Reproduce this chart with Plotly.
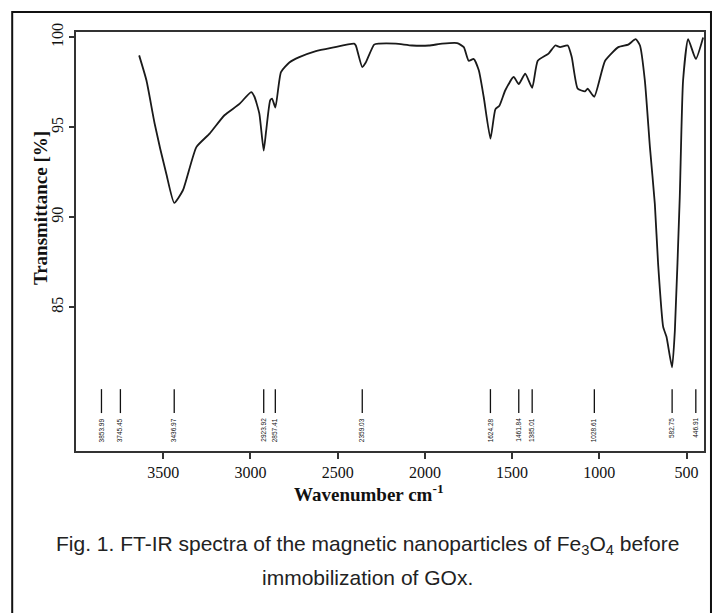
import plotly.graph_objects as go

# ---- data ----
wavenumber = [3638, 3596, 3549, 3482, 3437, 3387, 3310, 3234, 3149, 3063, 2996, 2977,
              2949, 2924, 2910, 2887, 2876, 2857, 2825, 2777, 2720, 2625, 2530, 2406,
              2396, 2359, 2339, 2291, 2263, 2167, 2073, 1977, 1901, 1815, 1777, 1749,
              1720, 1691, 1663, 1624, 1596, 1573, 1539, 1491, 1462, 1425, 1385, 1353,
              1291, 1253, 1225, 1181, 1158, 1124, 1082, 1067, 1029, 967, 891, 834,
              792, 767, 739, 710, 682, 663, 634, 615, 583, 567, 539, 520, 491, 447, 405]
transmittance = [99.0, 97.6, 95.2, 92.4, 90.8, 91.5, 93.9, 94.65, 95.67, 96.3, 96.96, 96.7,
                 95.76, 93.7, 94.8, 96.5, 96.6, 96.1, 98.07, 98.6, 98.9, 99.24, 99.43, 99.65,
                 99.55, 98.35, 98.6, 99.6, 99.65, 99.65, 99.55, 99.55, 99.65, 99.68, 99.46, 98.7,
                 98.8, 98.17, 96.7, 94.37, 96.0, 96.2, 97.06, 97.8, 97.4, 97.98, 97.2, 98.7,
                 99.1, 99.55, 99.46, 99.55, 98.9, 97.15, 97.0, 97.15, 96.7, 98.7, 99.46, 99.6,
                 99.9, 99.55, 97.6, 93.9, 90.76, 87.4, 83.9, 83.35, 81.65, 83.7, 91.1, 97.6, 99.9, 98.8, 100.0]
peak_positions = [3853.99, 3745.45, 3436.97, 2923.92, 2857.41, 2359.03,
                  1624.28, 1461.84, 1385.01, 1028.61, 582.75, 446.91]
peak_labels = ["3853.99", "3745.45", "3436.97", "2923.92", "2857.41", "2359.03",
               "1624.28", "1461.84", "1385.01", "1028.61", "582.75", "446.91"]
x_ticks = [3500, 3000, 2500, 2000, 1500, 1000, 500]
y_ticks = [85, 90, 95, 100]

# ---- layout constants ----
W, H = 716, 613
L, R, T, B = 76, 10, 32, 162
PW, PH = W - L - R, H - T - B
MARK_TOP, MARK_BOT, LABEL_TOP = 80.44, 79.11, 78.95

def px2paper_x(px):
    return (px - L) / PW

def py2paper_y(py):
    return 1 - (py - T) / PH

fig = go.Figure()
fig.add_trace(go.Scatter(x=wavenumber, y=transmittance, mode="lines",
                         line=dict(color="#1a1a1a", width=1.8, shape="spline", smoothing=0.5),
                         hoverinfo="skip", showlegend=False))

mx, my = [], []
for p in peak_positions:
    mx += [p, p, None]
    my += [MARK_TOP, MARK_BOT, None]
fig.add_trace(go.Scatter(x=mx, y=my, mode="lines", line=dict(color="#111", width=1.3),
                         hoverinfo="skip", showlegend=False))

for p, lab in zip(peak_positions, peak_labels):
    fig.add_annotation(x=p, y=LABEL_TOP, xref="x", yref="y", text=lab, showarrow=False,
                       textangle=-90, xanchor="center", yanchor="top",
                       font=dict(family="Liberation Sans, Arial", size=6.5, color="#111"))

axis_common = dict(showline=True, linecolor="#333", linewidth=2, mirror=True,
                   ticks="outside", tickcolor="#333", showgrid=False, zeroline=False,
                   tickfont=dict(family="Liberation Serif, Times New Roman", size=16, color="#111"))
fig.update_xaxes(range=[4000, 400], tickvals=x_ticks, ticklen=6, tickwidth=1.5, **axis_common)
fig.update_yaxes(range=[77, 100.3], tickvals=y_ticks, ticklen=5, tickwidth=1.5,
                 tickangle=-90, **axis_common)

# axis titles
fig.add_annotation(x=px2paper_x(370), y=py2paper_y(493), xref="paper", yref="paper",
                   text="<b>Wavenumber cm<sup>-1</sup></b>", showarrow=False,
                   xanchor="center", yanchor="middle",
                   font=dict(family="Liberation Serif, Times New Roman", size=19, color="#111"))
fig.add_annotation(x=px2paper_x(40), y=py2paper_y(208), xref="paper", yref="paper",
                   text="<b>Transmittance [%]</b>", showarrow=False, textangle=-90,
                   xanchor="center", yanchor="middle",
                   font=dict(family="Liberation Serif, Times New Roman", size=19, color="#111"))

# caption
cap_font = dict(family="Liberation Sans, Arial", size=21, color="#222")
fig.add_annotation(x=px2paper_x(368), y=py2paper_y(545), xref="paper", yref="paper",
                   text="Fig. 1. FT-IR spectra of the magnetic nanoparticles of Fe<sub>3</sub>O<sub>4</sub> before",
                   showarrow=False, xanchor="center", yanchor="middle", font=cap_font)
fig.add_annotation(x=px2paper_x(368), y=py2paper_y(577), xref="paper", yref="paper",
                   text="immobilization of GOx.", showarrow=False,
                   xanchor="center", yanchor="middle", font=cap_font)

# outer frame
fig.add_shape(type="rect", xref="paper", yref="paper",
              x0=px2paper_x(12), x1=px2paper_x(713), y0=py2paper_y(640), y1=py2paper_y(12),
              line=dict(color="#111", width=2), fillcolor="rgba(0,0,0,0)", layer="below")

fig.update_layout(width=W, height=H, margin=dict(l=L, r=R, t=T, b=B),
                  paper_bgcolor="white", plot_bgcolor="white", showlegend=False)

fig.write_html("out.html", config={"displayModeBar": False},
               post_script="document.body.style.margin='0px';document.body.style.overflow='hidden';")
